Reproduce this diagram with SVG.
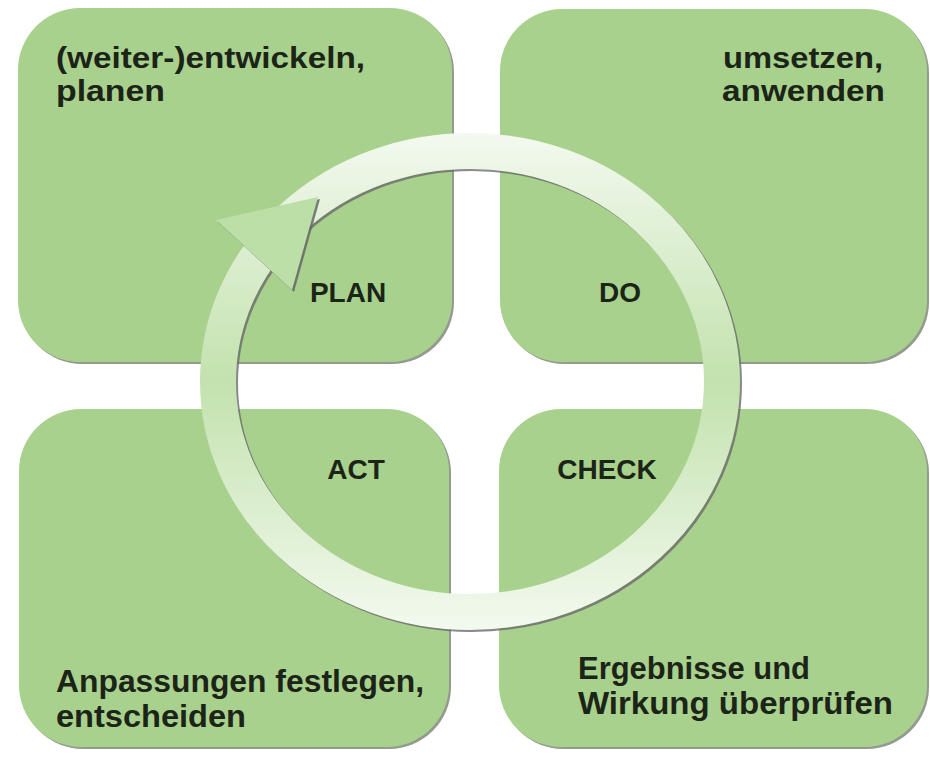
<svg xmlns="http://www.w3.org/2000/svg" width="930" height="758" viewBox="0 0 930 758">
  <defs>
    <style>
      .box { fill: #a9d18e; }
      .shadow { fill: #6f7a68; opacity: 0.75; }
      .t { font-family: "Liberation Sans", Arial, sans-serif; font-weight: bold; fill: #1c2418; }
      .big { font-size: 29px; }
      .lbl { font-size: 28px; }
      .cond { font-size: 31px; }
    </style>
    <linearGradient id="ringGrad" gradientUnits="userSpaceOnUse" x1="0" y1="133" x2="0" y2="630">
      <stop offset="0" stop-color="#f3f9ef"/>
      <stop offset="0.5" stop-color="#c3e2ae"/>
      <stop offset="1" stop-color="#f3f9ef"/>
    </linearGradient>
  </defs>
  <rect width="930" height="758" fill="#ffffff"/>

  <g id="node-plan">
    <rect class="shadow" x="20" y="10" width="434" height="354" rx="62"/>
    <rect class="box" x="18" y="8" width="434" height="354" rx="62"/>
    <text class="t big" x="56" y="68" textLength="309" lengthAdjust="spacingAndGlyphs">(weiter-)entwickeln,</text>
    <text class="t big" x="56" y="101" textLength="109" lengthAdjust="spacingAndGlyphs">planen</text>
    <text class="t lbl" x="348" y="302" text-anchor="middle">PLAN</text>
  </g>

  <g id="node-do">
    <rect class="shadow" x="502" y="11" width="427" height="353" rx="62"/>
    <rect class="box" x="500" y="9" width="427" height="353" rx="62"/>
    <text class="t big" x="723" y="68" textLength="160" lengthAdjust="spacingAndGlyphs">umsetzen,</text>
    <text class="t big" x="722" y="101" textLength="163" lengthAdjust="spacingAndGlyphs">anwenden</text>
    <text class="t lbl" x="620" y="302" text-anchor="middle">DO</text>
  </g>

  <g id="node-act">
    <rect class="shadow" x="21" y="411" width="430" height="338" rx="62"/>
    <rect class="box" x="19" y="409" width="430" height="338" rx="62"/>
    <text class="t lbl" x="356" y="479" text-anchor="middle">ACT</text>
    <text class="t cond" x="56" y="692" textLength="368" lengthAdjust="spacingAndGlyphs">Anpassungen festlegen,</text>
    <text class="t cond" x="56" y="727" textLength="190" lengthAdjust="spacingAndGlyphs">entscheiden</text>
  </g>

  <g id="node-check">
    <rect class="shadow" x="501" y="411" width="428" height="338" rx="62"/>
    <rect class="box" x="499" y="409" width="428" height="338" rx="62"/>
    <text class="t lbl" x="607" y="479" text-anchor="middle">CHECK</text>
    <text class="t cond" x="578" y="679" textLength="232" lengthAdjust="spacingAndGlyphs">Ergebnisse und</text>
    <text class="t cond" x="578" y="714" textLength="315" lengthAdjust="spacingAndGlyphs">Wirkung überprüfen</text>
  </g>

  <g id="connectors">
    <ellipse cx="472" cy="383.5" rx="252" ry="230.5" fill="none" stroke="#6a6a6a" stroke-width="36" opacity="0.8"/>
    <ellipse cx="470" cy="381.5" rx="252" ry="230.5" fill="none" stroke="url(#ringGrad)" stroke-width="36"/>
    <polygon points="218,222 320,199 294,292" fill="#666666" opacity="0.85"/>
    <polygon points="216,220 318,197 292,290" fill="#bcdfa8"/>
  </g>
</svg>
